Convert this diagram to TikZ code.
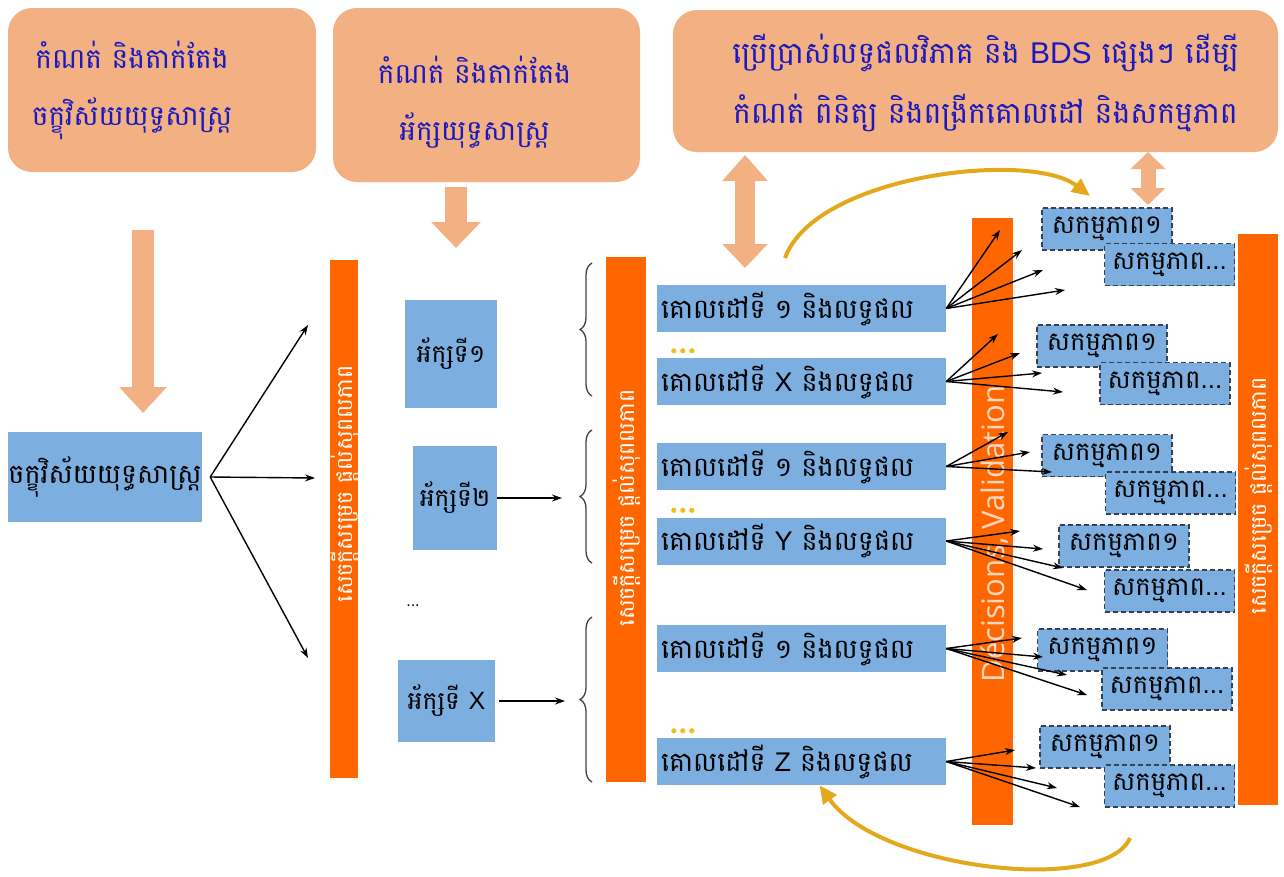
\documentclass[tikz,border=0pt]{standalone}
\usepackage{fontspec}
\usepackage{tikz}
\usepackage{xcolor}
\usetikzlibrary{arrows.meta,decorations.pathreplacing}

\newfontfamily\khmer[Script=Khmer]{Battambang}
\newfontfamily\lat{Liberation Sans}
\newfontfamily\opensans{Open Sans}

\definecolor{peach}{RGB}{243,176,130}
\definecolor{barorange}{RGB}{255,102,0}
\definecolor{boxblue}{RGB}{124,174,224}
\definecolor{textblue}{RGB}{25,25,190}
\definecolor{gold}{RGB}{228,168,28}
\definecolor{dotyellow}{RGB}{240,190,30}
\definecolor{dashgray}{RGB}{55,65,85}

\begin{document}
\begin{tikzpicture}[x=1pt, y=-1pt,
        topbox/.style={fill=peach, rounded corners=24pt, inner sep=0pt},
        toptext/.style={text=textblue, align=center, font=\khmer\fontsize{28}{57}\selectfont},
        bluebox/.style={fill=boxblue, inner sep=0pt, font=\khmer\fontsize{25}{28}\selectfont},
        goal/.style={bluebox, minimum width=289pt, minimum height=47pt, text width=281pt,
            align=left, font=\khmer\fontsize{27}{30}\selectfont},
        act/.style={bluebox, draw=dashgray, line width=1.2pt, dash pattern=on 5pt off 3pt,
            minimum width=130pt, minimum height=42pt, font=\khmer\fontsize{26}{30}\selectfont},
        bar/.style={fill=barorange, inner sep=0pt},
        bartext/.style={rotate=90, text=white, font=\khmer\fontsize{22}{24}\selectfont},
        fat/.style={draw=peach, line width=22pt},
        brace/.style={decorate, decoration={brace, amplitude=12pt}, line width=1.3pt, draw=black!75},
        goldarrow/.style={draw=gold, line width=4pt, -{Triangle[length=18pt,width=16pt]}},
        fan/.style={->, line width=1.4pt}]

    \useasboundingbox (0,0) rectangle (1284,876);

    \node[topbox, minimum width=308pt, minimum height=164pt] (tb1) at (162,90) {};
    \node[toptext] (tb1t) at ([xshift=-30pt]tb1.center)
        {កំណត់ និងតាក់តែង\\ចក្ខុវិស័យយុទ្ធសាស្ត្រ};
    \node[topbox, minimum width=307pt, minimum height=174pt] (tb2) at (486.5,95) {};
    \node[toptext] (tb2t) at ([xshift=-12pt, yshift=-7pt]tb2.center)
        {កំណត់ និងតាក់តែង\\អ័ក្សយុទ្ធសាស្ត្រ};
    \node[topbox, minimum width=605pt, minimum height=142pt] (tb3) at (975.5,81) {};
    \node[toptext, font=\khmer\fontsize{30}{60}\selectfont] (tb3t) at ([xshift=10pt, yshift=-2pt]tb3.center)
        {ប្រើប្រាស់លទ្ធផលវិភាគ និង {\lat BDS} ផ្សេងៗ ដើម្បី\\កំណត់ ពិនិត្យ និងពង្រីកគោលដៅ និងសកម្មភាព};

    \begin{scope}[every node/.style={bar}]
        \node[minimum width=28pt, minimum height=518pt] (bar1) at (344,519) {};
        \node[minimum width=40pt, minimum height=525pt] (bar2) at (626,519.5) {};
        \node[minimum width=41pt, minimum height=607pt] (valbar) at (992.5,521.5) {};
        \node[minimum width=40pt, minimum height=571pt] (bar3) at (1258,519.5) {};
    \end{scope}
    \node[bartext] (bar1t) at (345,484) {សេចក្តីសម្រេច ផ្តល់សុពលភាព};
    \node[bartext] (bar2t) at (627,508) {សេចក្តីសម្រេច ផ្តល់សុពលភាព};
    \node[bartext] (bar3t) at (1259,496) {សេចក្តីសម្រេច ផ្តល់សុពលភាព};
    \node[rotate=90, text=white, text opacity=0.75, font=\opensans\fontsize{31}{36}\selectfont]
        (valt) at (995,534) {Décisions, Validation};

    \node[bluebox, minimum width=194pt, minimum height=90pt, font=\khmer\fontsize{27}{30}\selectfont]
        (vision) at (105,477) {ចក្ខុវិស័យយុទ្ធសាស្ត្រ};
    \node[bluebox, minimum width=92pt, minimum height=108pt] (ax1) at (451,354) {អ័ក្សទី១};
    \node[bluebox, minimum width=84pt, minimum height=104pt] (ax2) at (455,498) {អ័ក្សទី២};
    \node[font=\lat\fontsize{16}{18}\selectfont] (axdots) at (413,606) {...};
    \node[bluebox, minimum width=97pt, minimum height=82pt] (axX) at (446.5,701) {អ័ក្សទី {\lat X}};

    \node[goal] (g1) at (801.5,308.5) {គោលដៅទី ១ និងលទ្ធផល};
    \node[goal] (g2) at (801.5,381.5) {គោលដៅទី {\lat X} និងលទ្ធផល};
    \node[goal] (g3) at (801.5,466.5) {គោលដៅទី ១ និងលទ្ធផល};
    \node[goal] (g4) at (801.5,541) {គោលដៅទី {\lat Y} និងលទ្ធផល};
    \node[goal] (g5) at (801.5,648.5) {គោលដៅទី ១ និងលទ្ធផល};
    \node[goal] (g6) at (801.5,761.5) {គោលដៅទី {\lat Z} និងលទ្ធផល};

    \foreach \g in {g2,g4,g6}
        \foreach \dx in {17,26,35}
            \fill[dotyellow] ([xshift=\dx pt, yshift=7pt]\g.north west) circle (2.6pt);

    \foreach \n/\ax/\ay/\bx/\by in {1/1107/229/1169.5/264.5, 2/1102/346/1165/383.5,
            3/1107/455.5/1170.5/493, 4/1124/546/1169.5/591,
            5/1102.5/650/1167/689, 6/1105/747/1169.5/786} {
        \node[act] (s\n a) at (\ax,\ay) {សកម្មភាព១};
        \node[act] (s\n b) at (\bx,\by) {សកម្មភាព{\lat ...}};
    }

    \coordinate (fa1) at (143,230);
    \coordinate (fa1e) at (143,413);
    \draw[fat, -{Triangle[length=26pt,width=46pt]}] (fa1) -- (fa1e);
    \coordinate (fa2) at (456,187);
    \coordinate (fa2e) at (456,248);
    \draw[fat, -{Triangle[length=26pt,width=48pt]}] (fa2) -- (fa2e);
    \coordinate (fa3) at (745,155);
    \coordinate (fa3e) at (745,268);
    \draw[fat, line width=20pt, {Triangle[length=26pt,width=44pt]}-{Triangle[length=24pt,width=44pt]}] (fa3) -- (fa3e);
    \coordinate (fa4) at (1148,152);
    \coordinate (fa4e) at (1148,205);
    \draw[fat, line width=15pt, {Triangle[length=17pt,width=34pt]}-{Triangle[length=17pt,width=34pt]}] (fa4) -- (fa4e);

    \begin{scope}[>={Stealth[length=10pt,width=7pt]}]
        \coordinate (vout) at ([xshift=8pt]vision.east);
        \coordinate (v1) at (308,325);
        \coordinate (v2) at (315,478);
        \coordinate (v3) at (308,658);
        \path [fan] (vout) edge (v1) edge (v2) edge (v3);

        \coordinate (b1t) at (592,263);
        \coordinate (b1b) at (592,396);
        \coordinate (b2t) at (592,430);
        \coordinate (b2b) at (592,563);
        \coordinate (b3t) at (592,617);
        \coordinate (b3b) at (592,782);
        \draw[brace] (b1b) -- (b1t);
        \draw[brace] (b2b) -- (b2t);
        \draw[brace] (b3b) -- (b3t);
        \coordinate (b2tip) at (580,496.5);
        \coordinate (b3tip) at (580,699.5);
        \draw[fan, shorten >=18pt] (ax2.east) -- (ax2.east -| b2tip);
        \draw[fan, shorten <=4pt, shorten >=15pt] (axX.east) -- (axX.east -| b3tip);

        \foreach \g/\pts in {g1/{1000/230,1022/250,1043/270,1065/290},
                g2/{998/334,1020/353,1042/373,1063/392},
                g3/{1008/432,1030/452,1052/472},
                g4/{1020/531,1043/549,1063/568,1087/590},
                g5/{1022/638,1043/657,1067/675,1087/695},
                g6/{1015/750,1036/768,1057/788,1080/807}}
            \foreach \ex/\ey [count=\k] in \pts {
                \coordinate (\g e\k) at (\ex,\ey);
                \draw[fan] (\g.east) -- (\g e\k);
            }
    \end{scope}

    \coordinate (gs1) at (785,258);
    \coordinate (ge1) at (1090,196);
    \draw[goldarrow] (gs1) .. controls (815,175) and (1030,150) .. (ge1);
    \coordinate (gs2) at (1130,838);
    \coordinate (ge2) at ([xshift=18pt]g6.south);
    \draw[goldarrow] (gs2) .. controls (1105,895) and (880,870) .. (ge2);
\end{tikzpicture}
\end{document}
